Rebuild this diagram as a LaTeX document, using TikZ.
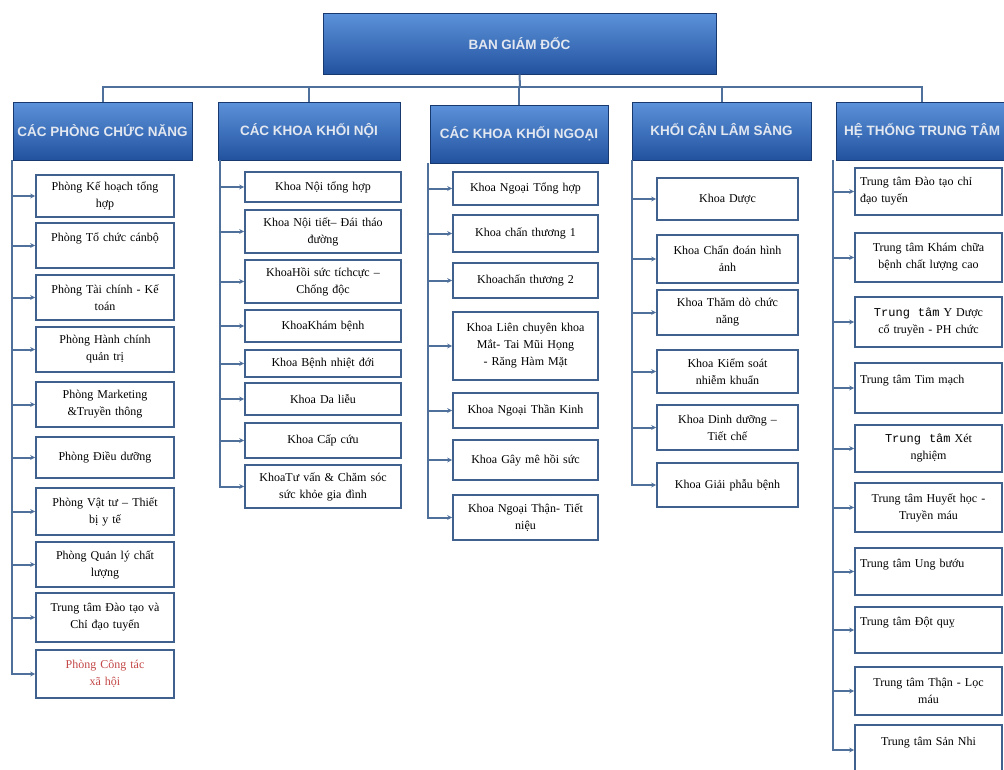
\documentclass[tikz,border=0pt]{standalone}
\usepackage{fontspec}
\setmainfont{Liberation Serif}
\setsansfont{Liberation Sans}
\setmonofont{Liberation Mono}
\usepackage{tikz}
\usetikzlibrary{arrows.meta}
\usepackage{xcolor}
\definecolor{hdtop}{RGB}{92,146,218}
\definecolor{hdbot}{RGB}{34,82,158}
\definecolor{hdtxt}{RGB}{226,231,240}
\definecolor{frame}{RGB}{64,96,142}
\definecolor{linkc}{RGB}{80,112,156}
\definecolor{redtxt}{RGB}{196,72,72}
\newcommand\lline[1]{#1\hfill\null}

\begin{document}
\begin{tikzpicture}[x=1pt, y=-1pt, >={Stealth[length=5pt,width=5pt]},
    head/.style={draw=hdbot!70!black, line width=0.6pt, top color=hdtop, bottom color=hdbot,
      text=hdtxt, font=\sffamily\bfseries\fontsize{13.5}{16}\selectfont, inner sep=0pt},
    unit/.style={draw=frame, line width=1.7pt, fill=white, inner sep=0pt, align=center,
      font=\fontsize{12}{17}\selectfont},
    bus/.style={draw=linkc, line width=2pt},
    link/.style={bus, ->}]
    \useasboundingbox (0,0) rectangle (1004,769);

    % Ban giam doc und Spalten
    \node[head, minimum width=393pt, minimum height=61pt] (bgd) at (519.5,43.5) {BAN GIÁM ĐỐC};
    \node[head, minimum width=179pt, minimum height=58pt] (h1) at (102.5,131) {CÁC PHÒNG CHỨC NĂNG};
    \node[head, minimum width=182pt, minimum height=58pt] (h2) at (309,131) {CÁC KHOA KHỐI NỘI};
    \node[head, minimum width=178pt, minimum height=58pt] (h3) at (519,134) {CÁC KHOA KHỐI NGOẠI};
    \node[head, minimum width=179pt, minimum height=58pt] (h4) at (721.5,131) {KHỐI CẬN LÂM SÀNG};
    \node[head, minimum width=172pt, minimum height=58pt] (h5) at (922,131) {HỆ THỐNG TRUNG TÂM};

    \coordinate (bus) at (520,87);
    \draw[bus] (bgd.south) -- (bus);
    \foreach \h in {h1,h2,h3,h4,h5}
        \draw[bus] (bus) -| (\h.north);

    \coordinate (s1) at ([xshift=-1pt]h1.south west);
    \coordinate (s2) at ([xshift=2pt]h2.south west);
    \coordinate (s3) at ([xshift=-2pt]h3.south west);
    \coordinate (s4) at ([xshift=0pt]h4.south west);
    \coordinate (s5) at ([xshift=-3pt]h5.south west);

    % Cac phong chuc nang
    \foreach \i/\ya/\yb/\txt in {1/175/217/{Phòng Kế hoạch tổng\\hợp},
        2/223/268/{Phòng Tổ chức cánbộ\\~}, 3/275/320/{Phòng Tài chính - Kế\\toán},
        4/327/372/{Phòng Hành chính\\quản trị}, 5/382/427/{Phòng Marketing\\\&Truyền thông},
        6/437/478/{Phòng Điều dưỡng}, 7/488/535/{Phòng Vật tư – Thiết\\bị y tế},
        8/542/587/{Phòng Quản lý chất\\lượng}, 9/593/642/{Trung tâm Đào tạo và\\Chỉ đạo tuyến},
        10/650/698/{\color{redtxt}Phòng Công tác\\xã hội}} {
        \node[unit, minimum width=138pt, minimum height={\yb-\ya}, text width=126pt] (a\i) at (105,{(\ya+\yb)/2}) {\txt};
        \draw[link] (s1) |- (a\i.west);
    }

    % Khoi noi
    \foreach \i/\ya/\yb/\txt in {1/172/202/{Khoa Nội tổng hợp},
        2/210/253/{Khoa Nội tiết– Đái tháo\\đường}, 3/260/303/{KhoaHồi sức tíchcực –\\Chống độc},
        4/310/342/{KhoaKhám bệnh}, 5/350/377/{Khoa Bệnh nhiệt đới},
        6/383/415/{Khoa Da liễu}, 7/423/458/{Khoa Cấp cứu},
        8/465/508/{KhoaTư vấn \& Chăm sóc\\sức khỏe gia đình}} {
        \node[unit, minimum width=156pt, minimum height={\yb-\ya}, text width=144pt] (b\i) at (323,{(\ya+\yb)/2}) {\txt};
        \draw[link] (s2) |- (b\i.west);
    }

    % Khoi ngoai
    \foreach \i/\ya/\yb/\txt in {1/172/205/{Khoa Ngoại Tổng hợp},
        2/215/252/{Khoa chấn thương 1}, 3/263/298/{Khoachấn thương 2},
        4/312/380/{Khoa Liên chuyên khoa\\Mắt- Tai Mũi Họng\\- Răng Hàm Mặt},
        5/393/428/{Khoa Ngoại Thần Kinh}, 6/440/480/{Khoa Gây mê hồi sức},
        7/495/540/{Khoa Ngoại Thận- Tiết\\niệu}} {
        \node[unit, minimum width=145pt, minimum height={\yb-\ya}, text width=135pt] (c\i) at (525.5,{(\ya+\yb)/2}) {\txt};
        \draw[link] (s3) |- (c\i.west);
    }

    % Can lam sang
    \foreach \i/\ya/\yb/\txt in {1/178/220/{Khoa Dược},
        2/235/283/{Khoa Chẩn đoán hình\\ảnh}, 3/290/335/{Khoa Thăm dò chức\\năng},
        4/350/393/{Khoa Kiểm soát\\nhiễm khuẩn}, 5/405/450/{Khoa Dinh dưỡng –\\Tiết chế},
        6/463/507/{Khoa Giải phẫu bệnh}} {
        \node[unit, minimum width=141pt, minimum height={\yb-\ya}, text width=131pt] (d\i) at (727.5,{(\ya+\yb)/2}) {\txt};
        \draw[link] (s4) |- (d\i.west);
    }

    % He thong trung tam
    \foreach \i/\ya/\yb/\txt in {1/168/215/{\lline{Trung tâm Đào tạo chỉ}\\\lline{đạo tuyến}},
        2/233/282/{Trung tâm Khám chữa\\bệnh chất lượng cao},
        3/297/347/{{\ttfamily Trung\ \ tâm} Y Dược\\cổ truyền - PH chức},
        4/363/413/{\lline{Trung tâm Tim mạch}\\~},
        5/425/472/{{\ttfamily Trung\ \ tâm} Xét\\nghiệm},
        6/483/532/{Trung tâm Huyết học -\\Truyền máu},
        7/548/595/{\lline{Trung tâm Ung bướu}\\~},
        8/607/653/{\lline{Trung tâm Đột quỵ}\\~},
        9/667/715/{Trung tâm Thận - Lọc\\máu}, 10/725/775/{Trung tâm Sản Nhi\\~}} {
        \node[unit, minimum width=147pt, minimum height={\yb-\ya}, text width=137pt] (e\i) at (928.5,{(\ya+\yb)/2}) {\txt};
        \draw[link] (s5) |- (e\i.west);
    }
\end{tikzpicture}
\end{document}
